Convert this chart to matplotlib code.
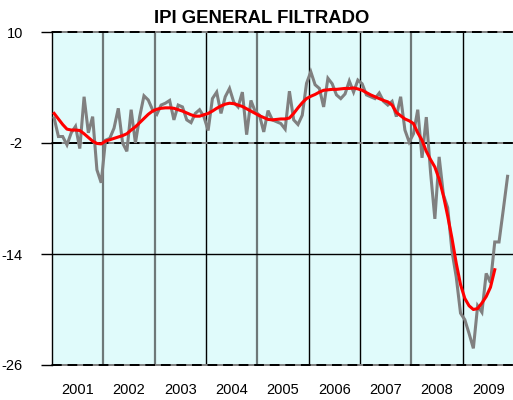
import numpy as np
import matplotlib
matplotlib.use("Agg")
import matplotlib.pyplot as plt

plt.rcParams['font.family'] = ['Liberation Sans', 'DejaVu Sans']

title = "IPI GENERAL FILTRADO"
years = ["2001", "2002", "2003", "2004", "2005", "2006", "2007", "2008", "2009"]

# Monthly raw series (grey), Jan 2001 onward
ipi_raw = [
    0.7, -1.3, -1.3, -2.2, -0.9, -0.2, -2.6, 3.0, -0.9, 0.85, -4.9, -6.3,
    -1.7, -1.5, -0.4, 1.75, -2.0, -2.9, 1.6, -2.0, 0.85, 3.1, 2.65, 1.6,
    1.1, 2.1, 2.3, 2.6, 0.5, 2.1, 1.9, 0.5, 0.2, 1.2, 1.6, 0.85,
    -0.65, 2.8, 3.5, 1.2, 3.0, 3.9, 2.4, 1.9, 3.5, -1.1, 2.6, 1.4,
    1.0, -0.8, 1.5, 0.5, 0.3, 0.1, -0.5, 3.6, 0.5, 0.0, 1.0, 4.45,
    5.7, 4.3, 3.9, 1.9, 5.0, 4.4, 3.2, 2.8, 3.3, 4.7, 3.5, 4.8,
    4.4, 3.2, 3.0, 2.8, 3.4, 2.5, 2.1, 2.5, 0.85, 3.0, -0.6, -1.9,
    -1.0, 1.6, -3.6, 0.8, -5.2, -10.2, -3.5, -7.6, -9.0, -13.7, -16.5, -20.4,
    -21.1, -22.6, -24.2, -19.6, -20.3, -16.1, -17.1, -12.7, -12.7, -9.2, -5.6,
]

# Smoothed series (red)
ipi_filtered = [
    1.2, 0.6, 0.0, -0.5, -0.6, -0.6, -0.65, -1.0, -1.4, -1.8, -2.05, -2.1,
    -1.8, -1.65, -1.5, -1.35, -1.2, -1.0, -0.6, -0.25, 0.2, 0.65, 1.1, 1.45,
    1.65, 1.75, 1.8, 1.8, 1.75, 1.6, 1.45, 1.25, 1.05, 0.9, 0.9, 1.05,
    1.2, 1.45, 1.75, 2.0, 2.2, 2.3, 2.25, 2.1, 1.95, 1.7, 1.45, 1.2,
    0.95, 0.75, 0.55, 0.5, 0.55, 0.6, 0.6, 0.7, 1.2, 1.8, 2.35, 2.8,
    3.05, 3.25, 3.5, 3.7, 3.75, 3.8, 3.8, 3.85, 3.9, 3.9, 3.95, 3.85,
    3.7, 3.45, 3.2, 3.0, 2.8, 2.6, 2.45, 2.1, 1.3, 0.95, 0.6, 0.4,
    0.1, -0.9, -1.7, -2.9, -3.8, -4.6, -5.9, -7.7, -9.9, -12.3, -15.0, -17.3,
    -18.8, -19.6, -20.0, -19.9, -19.3, -18.6, -17.6, -15.7,
]

y_ticks = [10, -2, -14, -26]

W, H = 513, 400
fig = plt.figure(figsize=(W / 100, H / 100), dpi=100)
ax = fig.add_axes([52 / W, 35 / H, 462 / W, 333 / H])
ax.set_facecolor('#E0FBFB')

n_months = 12 * len(years)
ax.set_xlim(0, n_months)
ax.set_ylim(-26, 10)

# vertical year separators
sep_colors = ['#6E7878', '#6E7878', 'black', '#6E7878', 'black', 'black', '#6E7878', 'black']
sep_widths = [1.6, 1.6, 1.0, 1.6, 1.0, 1.0, 1.6, 1.0]
for k in range(1, len(years)):
    ax.axvline(12 * k, color=sep_colors[k - 1], lw=sep_widths[k - 1], zorder=1)

# horizontal gridlines
for yv in [10, -2, -26]:
    ax.axhline(yv, color='#7F7F7F', lw=1.4, zorder=1, clip_on=False)
    ax.axhline(yv, color='black', lw=1.4, ls=(0, (5, 3)), zorder=1.1, clip_on=False)
ax.axhline(-14, color='black', lw=1.0, zorder=1)

x_raw = np.arange(len(ipi_raw)) + 0.5
x_f = np.arange(len(ipi_filtered)) + 0.5
ax.plot(x_raw, ipi_raw, color='#808080', lw=2.2, zorder=3, solid_joinstyle='miter')
ax.plot(x_f, ipi_filtered, color='#FF0000', lw=2.2, zorder=4)

ax.set_yticks(y_ticks)
ax.set_yticklabels([str(v) for v in y_ticks])
ax.tick_params(axis='y', direction='out', length=8, width=1, color='black',
               pad=13, labelsize=10.5)
ax.set_xticks([12 * k + 6 for k in range(len(years))])
ax.set_xticklabels(years)
ax.tick_params(axis='x', length=0, pad=13, labelsize=10.5)

for s in ['top', 'right', 'bottom']:
    ax.spines[s].set_visible(False)
ax.spines['left'].set_color('black')
ax.spines['left'].set_linewidth(1.0)

fig.text(262 / W, 1 - 22.7 / H, title, ha='center', va='baseline',
         fontsize=13.3, fontweight='bold')

fig.savefig('out.png', dpi=100)
